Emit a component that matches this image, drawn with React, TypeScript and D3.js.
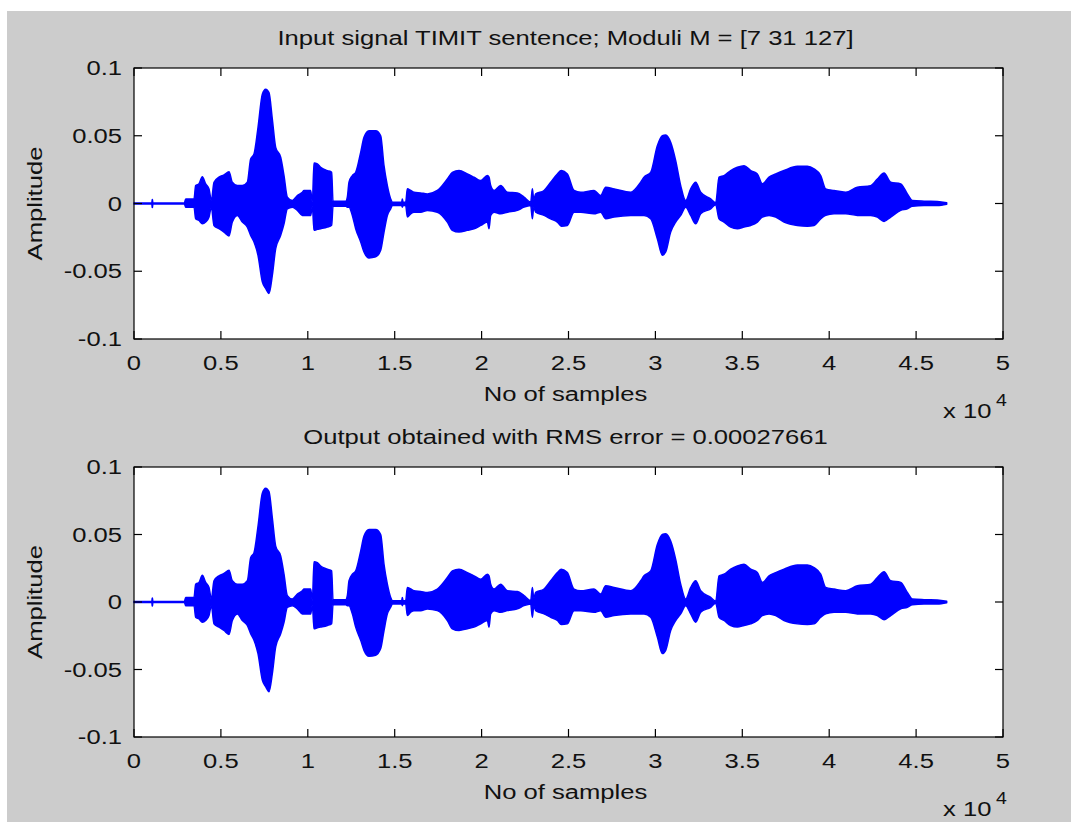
import React from "react";
import * as d3 from "d3";

// ---- data ----
const sampleIdx = [
  0, 1030, 1045, 1065, 1080, 2900, 2973, 3452, 3548, 3740, 3932, 4124, 4316, 4450, 4603, 4891, 5179, 5466,
  5658, 5946, 6234, 6521, 6713, 6905, 7135, 7384, 7576, 7768, 7960, 8152, 8439, 8631, 8823, 9111, 9398, 9686,
  9782, 10166, 10262, 10357, 10549, 10741, 11125, 11374, 11451, 12180, 12275, 12371, 12563, 12755, 13043, 13234,
  13522, 13906, 14193, 14385, 14577, 14769, 14865, 15400, 15440, 15480, 15632, 15728, 15920, 16112, 16495, 16879,
  17454, 18029, 18317, 18701, 19180, 19564, 19948, 20331, 20427, 20523, 20715, 21098, 21482, 22057, 22441, 22825,
  22921, 23000, 23112, 23592, 23975, 24359, 24589, 24934, 25318, 25702, 26469, 26852, 27140, 27620, 28579, 29154,
  29345, 29729, 30112, 30400, 30592, 30879, 31167, 31455, 31743, 32030, 32318, 32606, 33181, 33469, 33661, 33948,
  34332, 34716, 35099, 35483, 35867, 36154, 36538, 36921, 37401, 38168, 38743, 39127, 39511, 39798, 40278, 40949,
  41620, 42388, 42771, 43155, 43538, 44114, 44497, 44785, 45456, 46224, 46760,
];
const upperEnv = [
  0.0003, 0.0003, 0.003, 0.003, 0.0003, 0.0003, 0.0034, 0.0034, 0.0132, 0.0145, 0.0198, 0.0145, 0.0108, 0.0022, 0.0157, 0.0194, 0.0211, 0.0235,
  0.0157, 0.0132, 0.0132, 0.0157, 0.0328, 0.0365, 0.0561, 0.0806, 0.0843, 0.0818, 0.0622, 0.0414, 0.0341, 0.0206, 0.0047, 0.0022, 0.0059, 0.0083,
  0.0096, 0.0096, 0.001, 0.0299, 0.0292, 0.0267, 0.0243, 0.023, 0.0017, 0.0017, 0.0047, 0.0157, 0.0206, 0.023, 0.0377, 0.0488,
  0.0537, 0.0537, 0.05, 0.0279, 0.0132, 0.0034, 0.001, 0.001, 0.0034, 0.001, 0.001, 0.0108, 0.0096, 0.0083, 0.0078, 0.0071,
  0.0096, 0.0181, 0.023, 0.0243, 0.0218, 0.0194, 0.0169, 0.0206, 0.0194, 0.0132, 0.0096, 0.0132, 0.0083, 0.0078, 0.0047, 0.001,
  0.0108, 0.003, 0.0071, 0.0096, 0.0157, 0.0218, 0.0243, 0.0218, 0.0096, 0.0083, 0.0096, 0.0059, 0.012, 0.0108, 0.0083, 0.0157,
  0.0194, 0.023, 0.0426, 0.05, 0.0505, 0.0451, 0.0316, 0.0132, 0.0022, 0.0108, 0.0157, 0.0083, 0.0034, 0.0005, 0.0194, 0.0206,
  0.0243, 0.0267, 0.0279, 0.0243, 0.0218, 0.0145, 0.0194, 0.0218, 0.0243, 0.0274, 0.0274, 0.0255, 0.0206, 0.0108, 0.0096, 0.0083,
  0.012, 0.0132, 0.0181, 0.0225, 0.0157, 0.0145, 0.0071, 0.0022, 0.0017, 0.0015, 0.0005,
];
const lowerEnv = [
  -0.0003, -0.0003, -0.003, -0.003, -0.0003, -0.0003, -0.0027, -0.0027, -0.0113, -0.0125, -0.015, -0.0137, -0.01, -0.0027, -0.0162, -0.0186, -0.0211, -0.024,
  -0.0137, -0.0088, -0.0137, -0.0174, -0.0235, -0.0284, -0.0382, -0.0578, -0.0627, -0.0664, -0.0529, -0.0333, -0.0235, -0.015, -0.0039, -0.0027, -0.0051, -0.0088,
  -0.0088, -0.0088, -0.002, -0.0198, -0.0191, -0.0186, -0.0174, -0.016, -0.002, -0.002, -0.0027, -0.0027, -0.0088, -0.0186, -0.0284, -0.0358,
  -0.0402, -0.0394, -0.0345, -0.0211, -0.0088, -0.0039, -0.0015, -0.0015, -0.0027, -0.0015, -0.0015, -0.01, -0.0076, -0.0064, -0.0064, -0.0051,
  -0.0064, -0.0137, -0.0198, -0.0211, -0.0198, -0.0186, -0.0162, -0.0137, -0.0186, -0.0088, -0.0064, -0.0076, -0.0064, -0.0051, -0.0027, -0.0015,
  -0.0113, -0.003, -0.0064, -0.0088, -0.0113, -0.0137, -0.0167, -0.0162, -0.0064, -0.0064, -0.0076, -0.0064, -0.0113, -0.01, -0.0088, -0.0088,
  -0.0088, -0.0113, -0.026, -0.0382, -0.0358, -0.0211, -0.0137, -0.0088, -0.0027, -0.0088, -0.015, -0.0076, -0.0039, -0.001, -0.0113, -0.0137,
  -0.0174, -0.0186, -0.0174, -0.0162, -0.0137, -0.01, -0.0088, -0.01, -0.0137, -0.0162, -0.0167, -0.0162, -0.0113, -0.0088, -0.0076, -0.0076,
  -0.0088, -0.0088, -0.01, -0.0132, -0.01, -0.0051, -0.0039, -0.002, -0.0015, -0.0015, -0.0005,
];

const xTickValues = [0, 5000, 10000, 15000, 20000, 25000, 30000, 35000, 40000, 45000, 50000];
const xTickLabels = ["0", "0.5", "1", "1.5", "2", "2.5", "3", "3.5", "4", "4.5", "5"];
const yTickValues = [-0.1, -0.05, 0, 0.05, 0.1];
const yTickLabels = ["-0.1", "-0.05", "0", "0.05", "0.1"];

const panelTitles = [
  "Input signal TIMIT sentence; Moduli M = [7 31 127]",
  "Output obtained with RMS error = 0.00027661",
];
const xAxisLabel = "No of samples";
const yAxisLabel = "Amplitude";

// ---- layout ----
const W = 1078;
const H = 825;
const LEFT = 134;
const RIGHT = 1003;
const panels = [
  { top: 68, bottom: 339 },
  { top: 467, bottom: 737 },
];
const FONT = "'Liberation Sans', Arial, Helvetica, sans-serif";
const SX = 1.22;
const FS = 21;

type LP = {
  x: number;
  y: number;
  anchor?: "start" | "middle" | "end";
  rotate?: number;
  size?: number;
  children: React.ReactNode;
};
function Label({ x, y, anchor = "middle", rotate = 0, size = FS, children }: LP) {
  return (
    <text
      transform={`translate(${x},${y}) rotate(${rotate}) scale(${SX},1)`}
      textAnchor={anchor}
      fontFamily={FONT}
      fontSize={size}
      fill="#111"
    >
      {children}
    </text>
  );
}

const data = sampleIdx.map((s, i) => ({ s, hi: upperEnv[i], lo: lowerEnv[i] }));

function Panel({ top, bottom, title }: { top: number; bottom: number; title: string }) {
  const x = d3.scaleLinear().domain([0, 50000]).range([LEFT, RIGHT]);
  const y = d3.scaleLinear().domain([-0.1, 0.1]).range([bottom, top]);
  const area = d3
    .area<{ s: number; hi: number; lo: number }>()
    .x((d) => x(d.s))
    .y0((d) => y(d.lo))
    .y1((d) => y(d.hi))
    .curve(d3.curveMonotoneX);
  const tick = 8;
  const midY = (top + bottom) / 2;
  return (
    <g>
      <rect x={LEFT} y={top} width={RIGHT - LEFT} height={bottom - top} fill="#fff" />
      <path d={area(data) || ""} fill="#0000ff" stroke="#0000ff" strokeWidth={1.5} strokeLinejoin="round" />
      <rect x={LEFT} y={top} width={RIGHT - LEFT} height={bottom - top} fill="none" stroke="#000" strokeWidth={1.2} />
      {xTickValues.map((v, i) => (
        <g key={"xt" + i}>
          <line x1={x(v)} x2={x(v)} y1={bottom} y2={bottom - tick} stroke="#000" strokeWidth={1.2} />
          <line x1={x(v)} x2={x(v)} y1={top} y2={top + tick} stroke="#000" strokeWidth={1.2} />
          <Label x={x(v)} y={bottom + 31}>{xTickLabels[i]}</Label>
        </g>
      ))}
      {yTickValues.map((v, i) => (
        <g key={"yt" + i}>
          <line x1={LEFT} x2={LEFT + tick} y1={y(v)} y2={y(v)} stroke="#000" strokeWidth={1.2} />
          <line x1={RIGHT} x2={RIGHT - tick} y1={y(v)} y2={y(v)} stroke="#000" strokeWidth={1.2} />
          <Label x={122} y={y(v) + 7} anchor="end">{yTickLabels[i]}</Label>
        </g>
      ))}
      <Label x={(LEFT + RIGHT) / 2 - 3} y={top - 23}>{title}</Label>
      <Label x={(LEFT + RIGHT) / 2 - 3} y={bottom + 62}>{xAxisLabel}</Label>
      <Label x={42} y={midY} rotate={-90}>{yAxisLabel}</Label>
      <Label x={943} y={bottom + 79} anchor="start">x 10</Label>
      <Label x={996} y={bottom + 67} anchor="start" size={16}>4</Label>
    </g>
  );
}

export default function App() {
  return (
    <svg
      width={W}
      height={H}
      style={{ position: "absolute", left: 0, top: 0, display: "block" }}
      xmlns="http://www.w3.org/2000/svg"
    >
      <rect x={0} y={0} width={W} height={H} fill="#fff" />
      <rect x={7} y={11} width={1064} height={811} fill="#cccccc" />
      {panels.map((p, i) => (
        <Panel key={i} top={p.top} bottom={p.bottom} title={panelTitles[i]} />
      ))}
    </svg>
  );
}
